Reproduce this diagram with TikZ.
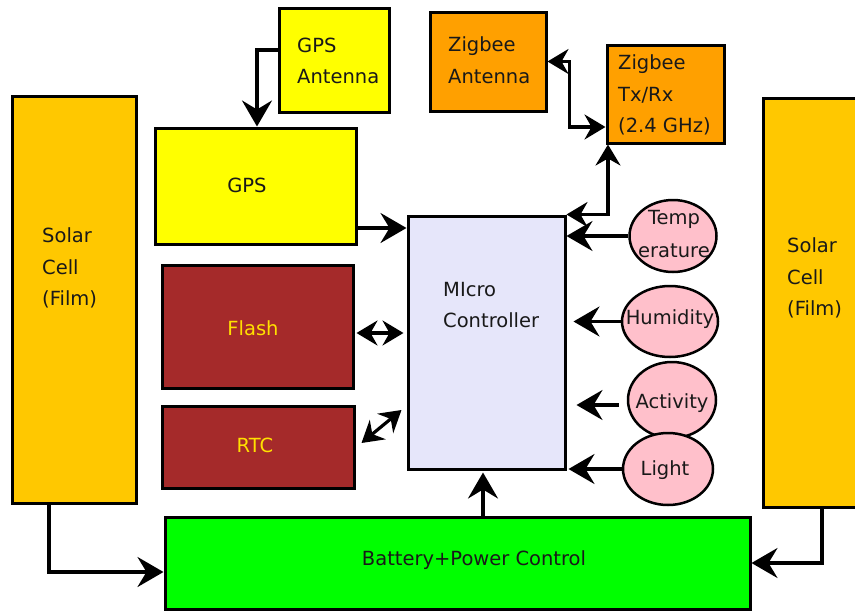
\documentclass[tikz,border=0pt]{standalone}
\usepackage{fontspec}
\setmainfont{DejaVu Sans}
\usetikzlibrary{arrows.meta,shapes.geometric}
\definecolor{solarc}{HTML}{FFC800}
\definecolor{gpsc}{HTML}{FFFF00}
\definecolor{zigc}{HTML}{FFA000}
\definecolor{flashc}{HTML}{A52A2A}
\definecolor{flashtxt}{HTML}{FFE000}
\definecolor{mcc}{HTML}{E6E6FA}
\definecolor{sensc}{HTML}{FFC0CB}
\definecolor{batc}{HTML}{00FF00}
\tikzset{
  box/.style={draw=black, line width=3pt, rectangle, inner sep=0pt},
  sens/.style={draw=black, line width=2.5pt, ellipse, fill=sensc, inner sep=0pt},
  txt/.style={inner sep=0pt, font=\fontsize{19.5}{31.5}\selectfont, text=black!90},
  conn/.style={-{Stealth[length=26pt,width=30pt,inset=9pt]}, line width=3.2pt},
  dconn/.style={{Stealth[length=21pt,width=25pt,inset=7pt]}-{Stealth[length=21pt,width=25pt,inset=7pt]}, line width=3.2pt},
}
\begin{document}
\begin{tikzpicture}[x=1pt,y=-1pt]
\clip (0,0) rectangle (855,611);
\fill[white] (0,0) rectangle (855,611);
% boxes
\node[box, fill=solarc, minimum width=124pt, minimum height=407pt] (solL) at (74,299.5) {};
\node[box, fill=solarc, minimum width=107pt, minimum height=409pt] (solR) at (816.5,302.5) {};
\node[box, fill=gpsc, minimum width=110pt, minimum height=104pt] (gpsant) at (334,60) {};
\node[box, fill=zigc, minimum width=116pt, minimum height=99pt] (zant) at (488,61.5) {};
\node[box, fill=zigc, minimum width=117pt, minimum height=98pt] (ztx) at (665.5,94) {};
\node[box, fill=gpsc, minimum width=201pt, minimum height=116pt] (gps) at (255.5,186) {};
\node[box, fill=flashc, minimum width=191pt, minimum height=123pt] (flash) at (257.5,326.5) {};
\node[box, fill=flashc, minimum width=192pt, minimum height=82pt] (rtc) at (258,447) {};
\node[box, fill=mcc, minimum width=157pt, minimum height=253pt] (mc) at (486.5,342.5) {};
\node[box, fill=batc, minimum width=585pt, minimum height=92pt] (bat) at (457.5,563) {};
% sensors
\node[sens, minimum width=87pt, minimum height=72pt] (temp) at (673,236) {};
\node[sens, minimum width=96pt, minimum height=71pt] (hum) at (670,321.5) {};
\node[sens, minimum width=88pt, minimum height=76pt] (act) at (672,400) {};
\node[sens, minimum width=90pt, minimum height=72pt] (light) at (668,469) {};
% texts
\node[txt, anchor=west, align=left] (solLT) at (42,268) {Solar\\Cell\\(Film)};
\node[txt, anchor=west, align=left] (solRT) at (787,278) {Solar\\Cell\\(Film)};
\node[txt, anchor=west, align=left] (gpsantT) at (297,61) {GPS\\Antenna};
\node[txt, anchor=west, align=left] (zantT) at (448,60) {Zigbee\\Antenna};
\node[txt, anchor=west, align=left] (ztxT) at (618,95) {Zigbee\\Tx/Rx\\(2.4 GHz)};
\node[txt] (gpsT) at (247,185) {GPS};
\node[txt, text=flashtxt] (flashT) at (253,328) {Flash};
\node[txt, text=flashtxt] (rtcT) at (255,445) {RTC};
\node[txt, anchor=west, align=left] (mcT) at (443,305) {MIcro\\Controller};
\node[txt] (batT) at (474,560) {Battery+Power Control};
\node[txt, align=center, font=\fontsize{19.5}{33}\selectfont] (tempT) at (674,234) {Temp\\erature};
\node[txt] (humT) at (670,319) {Humidity};
\node[txt] (actT) at (672,403) {Activity};
\node[txt] (lightT) at (665,470) {Light};
% helper coordinates
\coordinate (g1) at ([yshift=-42pt]gps.east);
\coordinate (a1) at ([xshift=-8pt,yshift=-5pt]act.west);
\coordinate (b1) at ([xshift=25.5pt]bat.north);
% connectors
\draw[conn] ([yshift=10pt]gpsant.west) -| ([xshift=1.5pt]gps.north);
\draw[dconn] (zant.east) -- ++(22pt,0) |- ([yshift=-33pt]ztx.west);
\draw[dconn] (mc.north east) -| ([xshift=-57.5pt]ztx.south);
\draw[conn] (temp.west) -- (mc.east |- temp.west);
\draw[conn] (g1) -- (g1 -| mc.west);
\draw[dconn] ([xshift=2pt,yshift=-6.5pt]flash.east) -- ([xshift=-3pt,yshift=9.5pt]mc.west);
\draw[dconn] ([xshift=6pt,yshift=4pt]rtc.east) -- ([xshift=-5pt,yshift=-67.5pt]mc.west);
\draw[conn] (hum.west) -- ([xshift=7pt]mc.east |- hum.west);
\draw[conn] (a1) -- ([xshift=10pt]mc.east |- a1);
\draw[conn] (light.west) -- ([xshift=2pt]mc.east |- light.west);
\draw[conn] (b1) -- ([yshift=-2pt]mc.south -| b1);
\draw[conn] ([xshift=-25pt]solL.south) |- ([yshift=-9pt]bat.west);
\draw[conn] ([xshift=5.5pt]solR.south) |- (bat.east);
\end{tikzpicture}
\end{document}
